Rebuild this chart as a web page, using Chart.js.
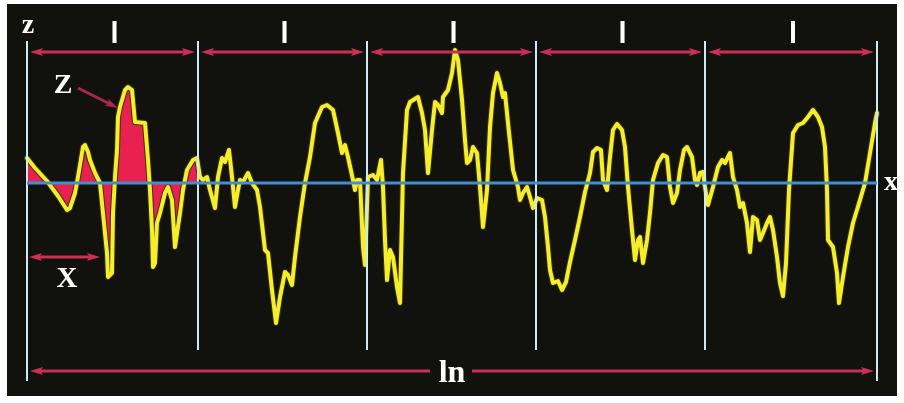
<!DOCTYPE html>
<html><head><meta charset="utf-8">
<script src="https://cdn.jsdelivr.net/npm/chart.js@4/dist/chart.umd.min.js"></script>
<style>html,body{margin:0;padding:0;background:#fff;}canvas{display:block}</style>
</head><body>
<canvas id="c" width="904" height="403"></canvas>
<script>
// Profile abscissa (along the evaluation length) and height from the mean line
const profileX = [0,8,20,31,40,43,48,51,56,58,61,63,68,73,76,80,81,85,86,88,90,91,93,98,101,105,108,118,121,123,125,126,128,130,133,138,141,145,148,153,156,160,166,170,
173,176,180,183,188,191,195,198,202,205,208,211,213,216,221,225,230,233,238,241,245,249,253,258,261,265,268,273,278,283,288,295,300,306,311,315,318,321,326,328,330,333,336,338,
341,346,350,354,356,358,360,363,366,370,373,376,380,383,391,395,398,401,405,408,411,415,416,421,425,428,431,435,438,440,443,446,450,453,456,460,463,466,470,473,476,478,481,486,491,493,496,500,503,506,
510,515,518,521,523,526,531,535,539,543,548,553,558,563,566,570,574,576,580,583,586,590,595,598,601,605,608,611,613,616,620,623,626,631,636,640,643,646,650,653,657,660,665,668,670,673,676,
678,681,686,691,695,698,703,706,710,713,716,720,723,726,730,733,736,740,743,746,750,753,756,759,762,766,771,776,781,786,791,795,798,800,801,806,810,812,816,821,826,833,838,843,848,850];
const profileZ = [25,15,2,-13,-27,-25,-10,6,36,38,31,23,10,0,-30,-70,-94,-90,-30,6,33,66,76,93,96,93,61,60,23,-7,-47,-84,-80,-40,-30,-10,-4,-17,-64,-30,-7,13,23,25,
6,3,6,-7,-25,6,25,21,33,6,-24,-7,3,1,10,0,-7,-24,-67,-70,-107,-140,-114,-89,-92,-102,-74,-34,0,26,60,76,78,73,50,30,38,26,3,-7,3,3,-64,-82,
6,8,3,23,-4,-57,-97,-67,-74,-104,-120,10,73,81,86,70,53,10,53,81,78,70,86,93,110,133,123,83,43,20,23,36,30,-4,-44,-7,56,90,110,100,86,90,60,13,-4,-17,-10,-4,-14,-25,
-15,-17,-34,-64,-87,-100,-98,-107,-99,-79,-57,-34,-9,10,31,35,33,3,-7,26,53,59,53,36,-4,-47,-77,-57,-54,-80,-57,-30,3,20,28,26,-4,-20,-10,13,33,36,26,3,-2,10,11,
-4,-22,-4,16,23,20,30,6,-7,-24,-20,-40,-69,-34,-37,-57,-50,-40,-34,-47,-74,-100,-113,-80,-7,50,58,60,66,73,66,56,36,-7,-57,-64,-90,-120,-94,-64,-40,-17,0,30,60,70];
// Sampling-length boundaries along the evaluation length
const samplingBounds = [0,171,340,509,678,850];
const samplingLabels = ['l','l','l','l','l'];
const evaluationLabel = 'ln';
const axisLabels = ['z','x'];
const featureLabels = ['Z','X'];

const profile = profileX.map((x,i)=>({x:x, y:profileZ[i]}));
const firstLength = profile.filter(p=>p.x<=samplingBounds[1]);

const ARROW = '#cc2f55';
function headH(ctx,x,y,dir,len,hw){
  ctx.beginPath();ctx.moveTo(x,y);ctx.lineTo(x-dir*len,y-hw);ctx.lineTo(x-dir*len*0.8,y);ctx.lineTo(x-dir*len,y+hw);ctx.closePath();ctx.fill();
}
function arrow(ctx,x1,x2,y,headL,headR){
  ctx.save();ctx.strokeStyle=ARROW;ctx.fillStyle=ARROW;ctx.lineWidth=3;
  ctx.beginPath();ctx.moveTo(x1+(headL?6:0),y);ctx.lineTo(x2-(headR?6:0),y);ctx.stroke();
  if(headL) headH(ctx,x1,y,-1,13,4);
  if(headR) headH(ctx,x2,y,1,13,4);
  ctx.restore();
}

const deco = {
  id:'deco',
  beforeDraw(chart){
    const c=chart.ctx;c.save();c.fillStyle='#ffffff';c.fillRect(0,0,chart.width,chart.height);
    c.fillStyle='#11110e';c.fillRect(7,4,890,392);c.restore();
  },
  afterDatasetsDraw(chart){
    const c=chart.ctx, xs=chart.scales.x, ys=chart.scales.y;
    const y0=ys.getPixelForValue(0);
    const bx=samplingBounds.map(v=>xs.getPixelForValue(v));
    c.save();
    // verticals
    c.strokeStyle='#cde9f1';c.lineWidth=2;
    bx.forEach((x,i)=>{
      const outer=(i===0||i===bx.length-1);
      c.beginPath();c.moveTo(x,41);c.lineTo(x,outer?381:350);c.stroke();
    });
    // mean line
    c.strokeStyle='#3f8fd6';c.lineWidth=3;
    c.beginPath();c.moveTo(bx[0],y0);c.lineTo(bx[bx.length-1],y0);c.stroke();
    // sampling length arrows + labels
    for(let i=0;i<bx.length-1;i++){
      arrow(c,bx[i]+3,bx[i+1]-3,52,true,true);
      c.fillStyle='#ffffff';c.font='bold 29px "Liberation Sans"';c.textAlign='center';c.textBaseline='alphabetic';
      c.fillText(samplingLabels[i],(bx[i]+bx[i+1])/2+2,43);
    }
    // evaluation length
    const mid=(bx[0]+bx[bx.length-1])/2;
    arrow(c,bx[0]+3,mid-22,371,true,false);
    arrow(c,mid+20,bx[bx.length-1]-3,371,false,true);
    c.fillStyle='#ffffff';c.font='bold 32px "Liberation Serif"';c.textAlign='center';
    c.fillText(evaluationLabel,mid,382);
    // axis labels
    c.font='bold 28px "Liberation Serif"';
    c.fillText(axisLabels[0],bx[0]+1,33);
    c.fillText(axisLabels[1],891,190);
    // Z feature
    c.fillText(featureLabels[0],63,93);
    const tx=xs.getPixelForValue(91), ty=ys.getPixelForValue(75);
    c.strokeStyle='#a8284a';c.fillStyle='#a8284a';c.lineWidth=3;
    c.beginPath();c.moveTo(78,88);c.lineTo(tx-6,ty-3);c.stroke();
    const ang=Math.atan2(ty-88,tx-78);
    c.save();c.translate(tx,ty);c.rotate(ang);c.beginPath();c.moveTo(0,0);c.lineTo(-13,-4);c.lineTo(-10,0);c.lineTo(-13,4);c.closePath();c.fill();c.restore();
    // X feature
    const xa=xs.getPixelForValue(0)+2, xb=xs.getPixelForValue(73), yx=ys.getPixelForValue(-74);
    arrow(c,xa,xb,yx,true,true);
    c.fillStyle='#ffffff';c.font='bold 29px "Liberation Serif"';
    c.fillText(featureLabels[1],67,287);
    c.restore();
  }
};

new Chart(document.getElementById('c'),{
  type:'line',
  data:{datasets:[
    {data:profile,borderColor:'#f4ee2c',borderWidth:4,pointRadius:0,tension:0,fill:false,borderJoinStyle:'round',borderCapStyle:'round'},
    {data:profile,borderColor:'#3a320a',borderWidth:6,pointRadius:0,tension:0,fill:false,borderJoinStyle:'round',borderCapStyle:'round'},
    {data:firstLength,borderWidth:0,borderColor:'rgba(0,0,0,0)',backgroundColor:'#e8214f',pointRadius:0,tension:0,fill:'origin'}
  ]},
  options:{
    responsive:false,animation:false,devicePixelRatio:1,
    layout:{padding:0},
    plugins:{legend:{display:false},tooltip:{enabled:false}},
    scales:{
      x:{type:'linear',min:-27,max:877,display:false},
      y:{type:'linear',min:-220,max:183,display:false}
    }
  },
  plugins:[deco]
});
</script>
</body></html>
